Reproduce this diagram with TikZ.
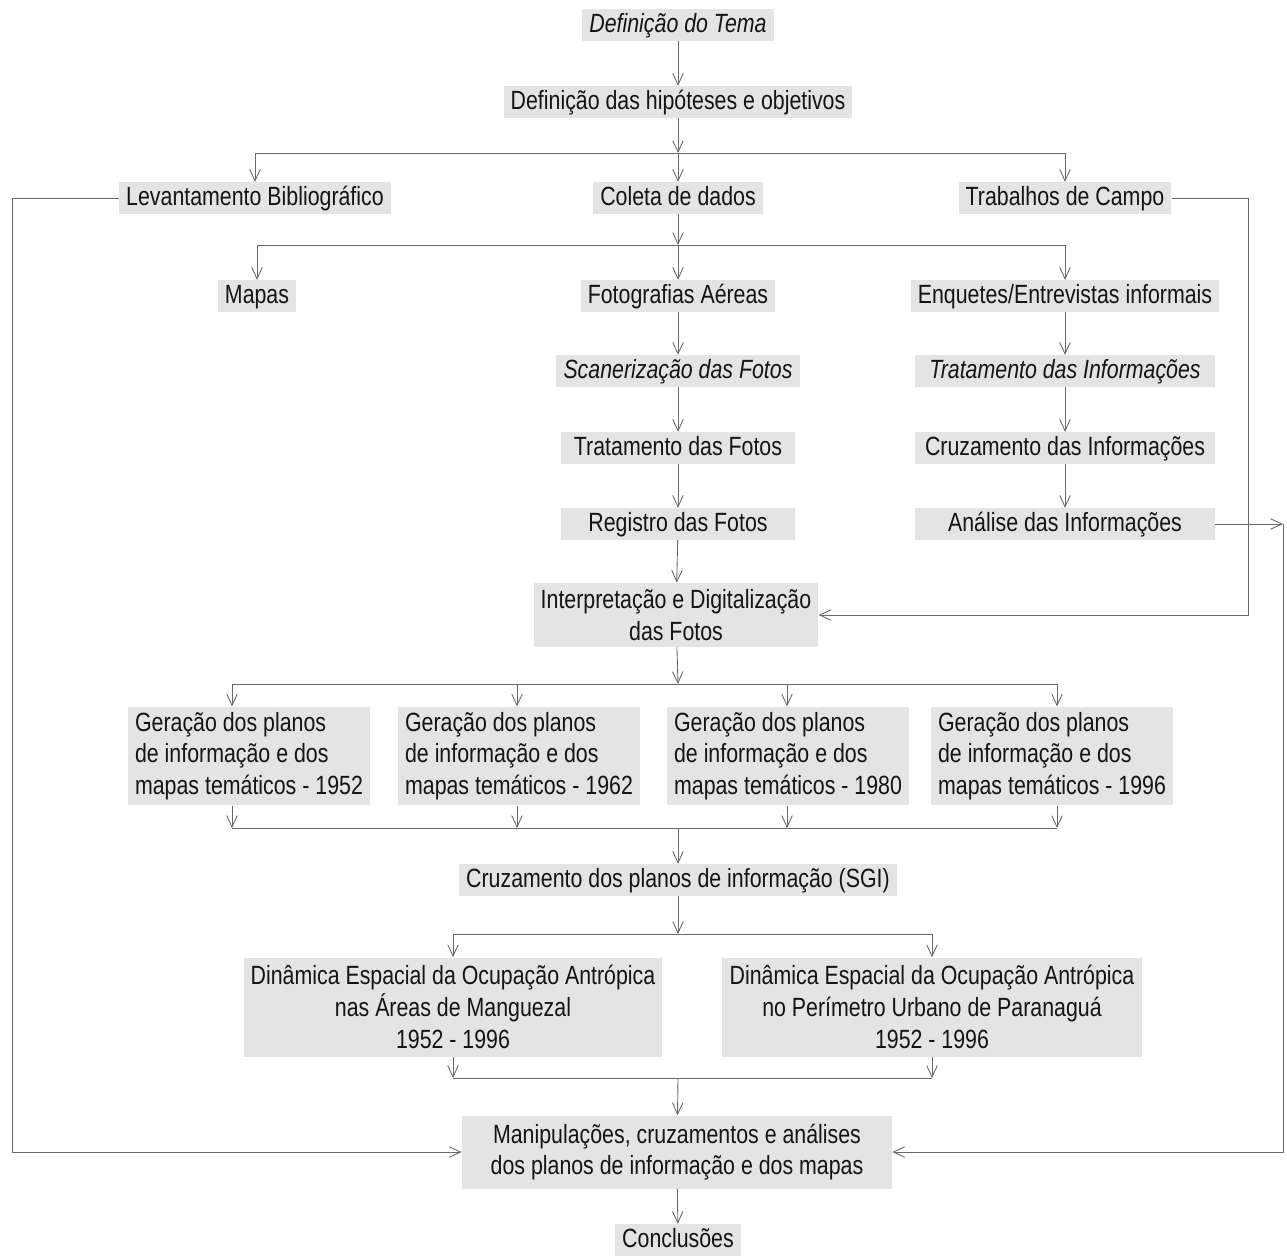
\documentclass[tikz,border=0pt]{standalone}
\usepackage{fontspec}
\setmainfont{Liberation Sans}[FakeStretch=0.81]
\usepackage{tikz}
\usetikzlibrary{arrows.meta}
\definecolor{boxgray}{RGB}{228,228,228}
\definecolor{linegray}{RGB}{105,105,105}
\definecolor{textgray}{RGB}{20,20,20}

\begin{document}
\begin{tikzpicture}[x=0.02cm, y=-0.02cm, font=\fontsize{15}{18}\selectfont,
  box/.style={fill=boxgray, text=textgray, inner xsep=4pt, inner ysep=1.5pt, text height=11.5pt, text depth=3.5pt},
  cbox/.style={box, minimum width=4.68cm},
  rbox/.style={box, minimum width=6cm},
  mbox/.style={fill=boxgray, text=textgray, inner xsep=4pt, inner ysep=2pt, align=center},
  gbox/.style={fill=boxgray, text=textgray, inner xsep=3pt, inner ysep=2pt, align=left, minimum width=4.84cm, minimum height=1.97cm},
  arr/.style={draw=linegray, line width=0.5pt, -{Straight Barb[length=6.5pt, width=6pt]}},
  link/.style={draw=linegray, line width=0.5pt}]
\useasboundingbox (0,0) rectangle (1287,1258);

% Nodes
\node[box] (tema) at (678,25) {\itshape Definição do Tema};
\node[box] (hipo) at (678,102) {Definição das hipóteses e objetivos};
\node[box] (lev) at (255,198) {Levantamento Bibliográfico};
\node[box] (coleta) at (678,198) {Coleta de dados};
\node[box] (campo) at (1065,198) {Trabalhos de Campo};
\node[box] (mapas) at (257,296) {Mapas};
\node[box] (foto) at (678,296) {Fotografias Aéreas};
\node[rbox] (enq) at (1065,296) {Enquetes/Entrevistas informais};
\node[cbox] (scan) at (678,371) {\itshape Scanerização das Fotos};
\node[rbox] (tinfo) at (1065,371) {\itshape Tratamento das Informações};
\node[cbox] (tfoto) at (678,448) {Tratamento das Fotos};
\node[rbox] (cinfo) at (1065,448) {Cruzamento das Informações};
\node[cbox] (reg) at (678,524) {Registro das Fotos};
\node[rbox] (anal) at (1065,524) {Análise das Informações};
\node[mbox, minimum height=1.28cm] (interp) at (676,615) {Interpretação e Digitalização\\das Fotos};
\node[gbox] (g52) at (249,756) {Geração dos planos\\de informação e dos\\mapas temáticos - 1952};
\node[gbox] (g62) at (519,756) {Geração dos planos\\de informação e dos\\mapas temáticos - 1962};
\node[gbox] (g80) at (788,756) {Geração dos planos\\de informação e dos\\mapas temáticos - 1980};
\node[gbox] (g96) at (1052,756) {Geração dos planos\\de informação e dos\\mapas temáticos - 1996};
\node[box] (sgi) at (678,880) {Cruzamento dos planos de informação (SGI)};
\node[mbox, minimum width=8.2cm, minimum height=1.98cm] (dman) at (453,1007) {Dinâmica Espacial da Ocupação Antrópica\\nas Áreas de Manguezal\\1952 - 1996};
\node[mbox, minimum width=8.4cm, minimum height=1.98cm] (durb) at (932,1007) {Dinâmica Espacial da Ocupação Antrópica\\no Perímetro Urbano de Paranaguá\\1952 - 1996};
\node[mbox, minimum width=8.6cm, minimum height=1.46cm] (manip) at (677,1152) {Manipulações, cruzamentos e análises\\dos planos de informação e dos mapas};
\node[box] (conc) at (678,1240) {Conclusões};

% Junctions
\coordinate (j1) at (678,153);
\coordinate (j2) at (678,245);
\coordinate (j3) at (678,684);
\coordinate (j4) at (678,828);
\coordinate (j5) at (678,934);
\coordinate (j6) at (678,1078);
\coordinate (ar) at (1283,524);

% Edges
\draw[arr] (tema) -- (hipo);
\draw[arr] (hipo) -- (j1);
\draw[link] (lev |- j1) -- (campo |- j1);
\draw[arr] (j1) -- (coleta);
\draw[arr] (lev |- j1) -- (lev);
\draw[arr] (campo |- j1) -- (campo);

\draw[arr] (coleta) -- (j2);
\draw[link] (mapas |- j2) -- (enq |- j2);
\draw[arr] (j2) -- (foto);
\draw[arr] (mapas |- j2) -- (mapas);
\draw[arr] (enq |- j2) -- (enq);

\draw[arr] (foto) -- (scan);
\draw[arr] (scan) -- (tfoto);
\draw[arr] (tfoto) -- (reg);
\draw[arr] (reg) -- (interp);
\draw[arr] (enq) -- (tinfo);
\draw[arr] (tinfo) -- (cinfo);
\draw[arr] (cinfo) -- (anal);

\draw[arr] (interp) -- (j3);
\draw[link] (232,684) -- (1057,684);
\draw[link] (232,828) -- (1057,828);
\foreach \g/\x in {g52/232, g62/517, g80/787, g96/1057} {
  \coordinate (c) at (\x,0);
  \draw[arr] (c |- j3) -- (c |- \g.north);
  \draw[arr] (c |- \g.south) -- (c |- j4);
}
\draw[arr] (j4) -- (sgi);

\draw[arr] (sgi) -- (j5);
\draw[link] (dman |- j5) -- (durb |- j5);
\draw[arr] (dman |- j5) -- (dman);
\draw[arr] (durb |- j5) -- (durb);
\draw[arr] (dman) -- (dman |- j6);
\draw[arr] (durb) -- (durb |- j6);
\draw[link] (dman |- j6) -- (durb |- j6);
\draw[arr] (j6) -- (manip);
\draw[arr] (manip) -- (conc);

% Feedback lines
\draw[arr] (lev.west) -- (12,198) |- (manip.west);
\draw[arr] (campo.east) -- (1248,198) |- (interp.east);
\draw[arr] (anal) -- (ar);
\draw[arr] (ar) |- (manip.east);

\end{tikzpicture}
\end{document}
